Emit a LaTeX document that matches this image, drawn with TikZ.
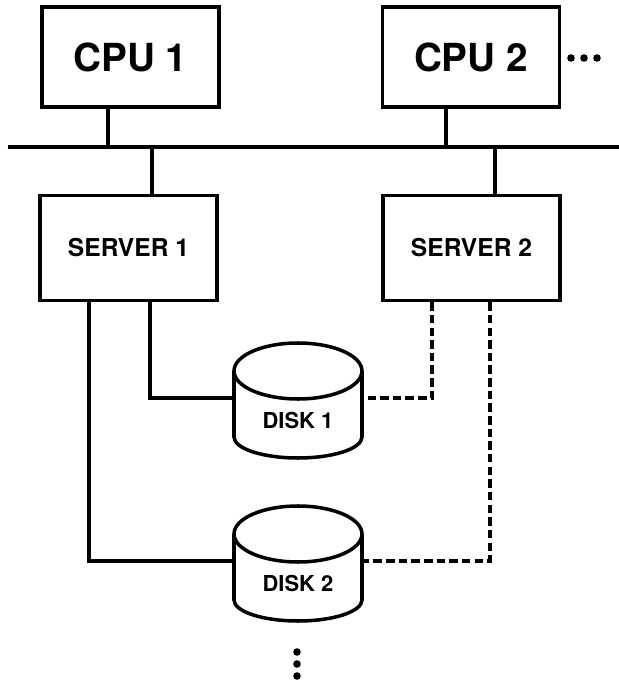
\documentclass[tikz,border=0pt]{standalone}
\usepackage{fontspec}
\setmainfont{TeX Gyre Heros}
\usetikzlibrary{calc}

\newcommand{\drawdisk}[1]{%
  \draw[wire] ($(#1.center)+(-64,49)$) -- ($(#1.center)+(-64,-17)$)
    arc (180:360:64 and 21) -- ($(#1.center)+(64,49)$);
  \draw[wire] ($(#1.center)+(0,49)$) ellipse (64 and 28);
  \coordinate (#1-w) at ($(#1.center)+(-64,22)$);
  \coordinate (#1-e) at ($(#1.center)+(64,22)$);
}

\begin{document}
\begin{tikzpicture}[x=0.02cm,y=0.02cm,
  box/.style={draw,line width=2pt,inner sep=0pt,minimum width=3.54cm},
  cpubox/.style={box,minimum height=2cm,font=\fontsize{22}{24}\selectfont\bfseries},
  serverbox/.style={box,minimum height=2.1cm,font=\fontsize{14}{16}\selectfont\bfseries},
  disklabel/.style={inner sep=0pt,font=\fontsize{12.5}{14}\selectfont\bfseries},
  wire/.style={line width=2pt},
  dashwire/.style={wire,dash pattern=on 4.8pt off 2.4pt},
  bus/.style={line width=2.6pt}]
\useasboundingbox (0,0) rectangle (619,681);

\node[cpubox] (cpu1) at (130.5,624) {CPU 1};
\node[cpubox] (cpu2) at (471,624) {CPU 2};
\foreach \x in {571,584,597}
  \fill (\x,623) circle (3.8);

\coordinate (busL) at (8,534);
\coordinate (busR) at (619,534);
\draw[bus] (busL) -- (busR);

\node[serverbox] (server1) at (128.5,433) {SERVER 1};
\node[serverbox] (server2) at (471.5,433) {SERVER 2};

\coordinate (c1) at ($(cpu1.south)+(-22.5,0)$);
\coordinate (c2) at ($(cpu2.south)+(-25,0)$);
\coordinate (s1top) at ($(server1.north)+(23.5,0)$);
\coordinate (s2top) at ($(server2.north)+(23.5,0)$);
\draw[wire] (c1) -- (c1 |- busL);
\draw[wire] (c2) -- (c2 |- busL);
\draw[wire] (s1top |- busL) -- (s1top);
\draw[wire] (s2top |- busL) -- (s2top);

\node[disklabel] (disk1) at (298,261) {DISK 1};
\node[disklabel] (disk2) at (298,98) {DISK 2};
\drawdisk{disk1}
\drawdisk{disk2}

\coordinate (s1a) at ($(server1.south)+(-39.5,0)$);
\coordinate (s1b) at ($(server1.south)+(21.5,0)$);
\coordinate (s2a) at ($(server2.south)+(-39.5,0)$);
\coordinate (s2b) at ($(server2.south)+(18.5,0)$);
\draw[wire] (s1b) |- (disk1-w);
\draw[wire] (s1a) |- (disk2-w);
\draw[dashwire] (s2a) |- (disk1-e);
\draw[dashwire] (s2b) |- (disk2-e);

\foreach \y in {29,17,5}
  \fill (297,\y) circle (3.8);
\end{tikzpicture}
\end{document}
